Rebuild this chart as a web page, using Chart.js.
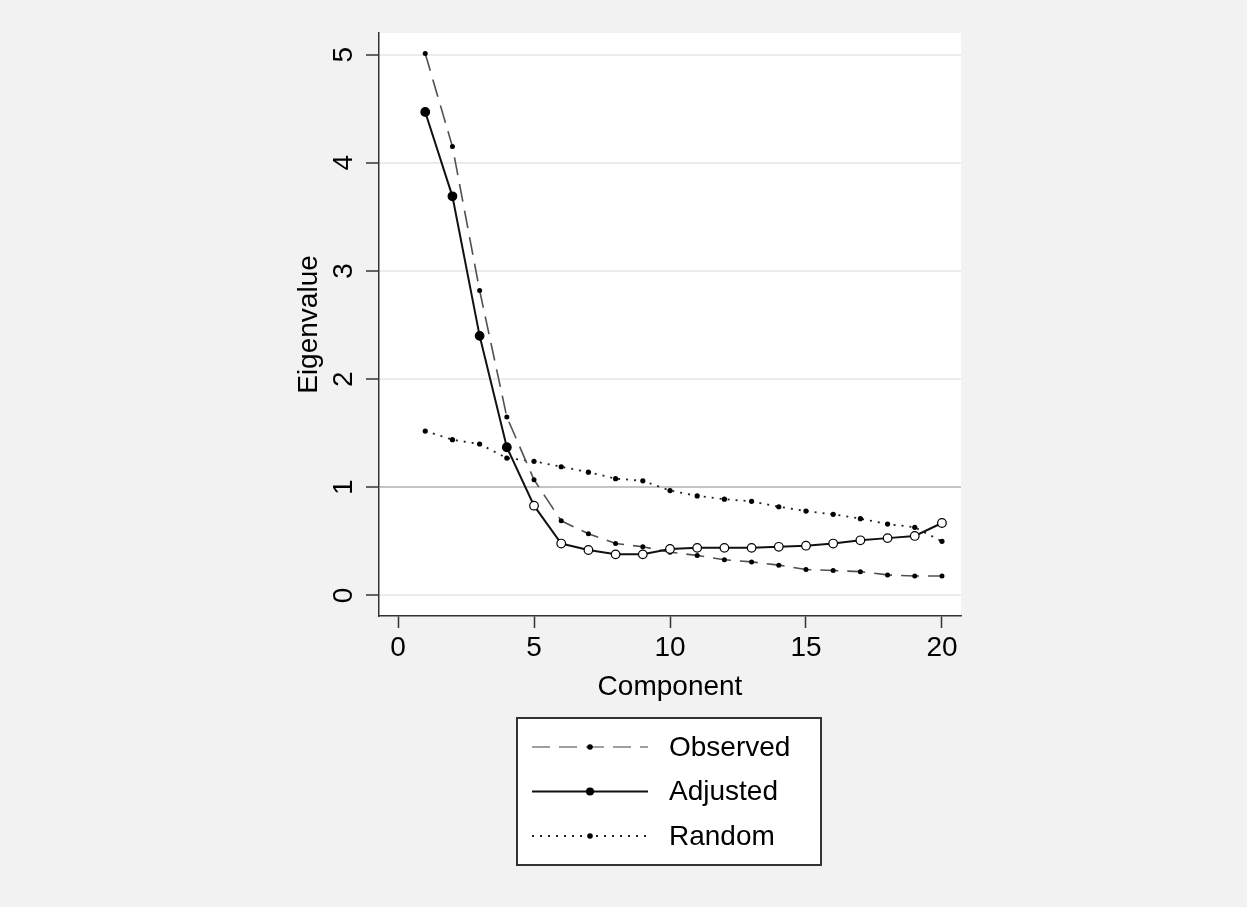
<!DOCTYPE html>
<html>
<head>
<meta charset="utf-8">
<script src="https://cdn.jsdelivr.net/npm/chart.js@4.4.1/dist/chart.umd.min.js"></script>
<style>
    html, body { margin: 0; padding: 0; background: #f2f2f2; }
    #wrap { width: 1247px; height: 907px; }
</style>
</head>
<body>
<div id="wrap"><canvas id="myChart" width="1247" height="907"></canvas></div>
<script>
// components 1..20
const components = [1, 2, 3, 4, 5, 6, 7, 8, 9, 10, 11, 12, 13, 14, 15, 16, 17, 18, 19, 20];

// eigenvalues
const observed = [5.01, 4.15, 2.82, 1.65, 1.07, 0.69, 0.57, 0.48, 0.45, 0.40,
    0.37, 0.33, 0.31, 0.28, 0.24, 0.23, 0.22, 0.19, 0.18, 0.18];
const adjusted = [4.47, 3.69, 2.40, 1.37, 0.83, 0.48, 0.42, 0.38, 0.38, 0.43,
    0.44, 0.44, 0.44, 0.45, 0.46, 0.48, 0.51, 0.53, 0.55, 0.67];
const random = [1.52, 1.44, 1.40, 1.27, 1.24, 1.19, 1.14, 1.08, 1.06, 0.97,
    0.92, 0.89, 0.87, 0.82, 0.78, 0.75, 0.71, 0.66, 0.63, 0.50];

const xTicks = [0, 5, 10, 15, 20];
const yTicks = [0, 1, 2, 3, 4, 5];

const FONT = "'Liberation Sans', Arial, Helvetica, sans-serif";

const toPoints = (vals) => vals.map((v, i) => ({ x: components[i], y: v }));

// gray page + white plot region
const backgroundPlugin = {
    id: "bg",
    beforeDraw(chart) {
        const { ctx, chartArea } = chart;
        ctx.save();
        ctx.fillStyle = "#f2f2f2";
        ctx.fillRect(0, 0, chart.width, chart.height);
        ctx.fillStyle = "#ffffff";
        ctx.fillRect(chartArea.left, chartArea.top, chartArea.right - chartArea.left, chartArea.bottom - chartArea.top);
        ctx.restore();
    },
};

// boxed legend under the plot, line sample with marker in the middle
const boxLegendPlugin = {
    id: "boxLegend",
    afterDraw(chart) {
        const ctx = chart.ctx;
        const box = { x: 517, y: 718, w: 304, h: 147 };
        ctx.save();
        ctx.fillStyle = "#ffffff";
        ctx.fillRect(box.x, box.y, box.w, box.h);
        ctx.strokeStyle = "#333333";
        ctx.lineWidth = 2;
        ctx.strokeRect(box.x, box.y, box.w, box.h);

        chart.data.datasets.forEach((ds, i) => {
            const y = 747 + i * 44.5;
            ctx.beginPath();
            ctx.setLineDash(ds.borderDash || []);
            ctx.strokeStyle = ds.legendColor || ds.borderColor;
            ctx.lineWidth = ds.borderWidth;
            ctx.moveTo(532, y);
            ctx.lineTo(648, y);
            ctx.stroke();
            ctx.setLineDash([]);
            ctx.beginPath();
            ctx.fillStyle = "#000";
            ctx.arc(590, y, ds.legendRadius, 0, Math.PI * 2);
            ctx.fill();

            ctx.fillStyle = "#000";
            ctx.font = "28px " + FONT;
            ctx.textAlign = "left";
            ctx.textBaseline = "middle";
            ctx.fillText(ds.label, 669, y + 1);
        });
        ctx.restore();
    },
};

const ctx = document.getElementById("myChart").getContext("2d");

new Chart(ctx, {
    type: "line",
    data: {
        datasets: [
            {
                label: "Observed",
                data: toPoints(observed),
                borderColor: "#505050",
                legendColor: "#808080",
                borderWidth: 1.6,
                borderDash: [18, 9],
                pointRadius: 2.5,
                pointBackgroundColor: "#000",
                pointBorderColor: "#000",
                pointBorderWidth: 0,
                legendRadius: 2.8,
                order: 2,
            },
            {
                label: "Adjusted",
                data: toPoints(adjusted),
                borderColor: "#111",
                borderWidth: 2,
                pointRadius: 4.3,
                pointBackgroundColor: (c) => (c.raw && c.raw.y > 1 ? "#000" : "#fff"),
                pointBorderColor: "#000",
                pointBorderWidth: 1.2,
                legendRadius: 4,
                order: 1,
            },
            {
                label: "Random",
                data: toPoints(random),
                borderColor: "#222",
                borderWidth: 1.8,
                borderDash: [2, 6],
                pointRadius: 2.6,
                pointBackgroundColor: "#000",
                pointBorderColor: "#000",
                pointBorderWidth: 0,
                legendRadius: 2.8,
                order: 3,
            },
        ],
    },
    options: {
        responsive: false,
        animation: false,
        clip: false,
        layout: {
            padding: { left: 290, right: 286, top: 33, bottom: 196 },
        },
        elements: {
            line: { tension: 0, fill: false },
        },
        scales: {
            x: {
                type: "linear",
                min: -0.7,
                max: 20.7,
                afterBuildTicks: (scale) => { scale.ticks = xTicks.map((v) => ({ value: v })); },
                afterFit: (scale) => { scale.height = 95; },
                grid: {
                    drawOnChartArea: false,
                    drawTicks: true,
                    tickLength: 12,
                    tickColor: "#333",
                    tickWidth: 1.5,
                },
                border: { display: true, color: "#333", width: 1.5 },
                ticks: {
                    color: "#000",
                    padding: 3,
                    maxRotation: 0,
                    autoSkip: false,
                    font: { family: FONT, size: 28 },
                },
                title: {
                    display: true,
                    text: "Component",
                    color: "#000",
                    font: { family: FONT, size: 28 },
                    padding: { top: 0, bottom: 7 },
                },
            },
            y: {
                type: "linear",
                min: -0.19,
                max: 5.2,
                afterBuildTicks: (scale) => { scale.ticks = yTicks.map((v) => ({ value: v })); },
                afterFit: (scale) => { scale.width = 89; },
                grid: {
                    color: (c) => (c.tick && c.tick.value === 1 ? "#c4c4c4" : "#ebebeb"),
                    lineWidth: 2,
                    drawTicks: true,
                    tickLength: 13,
                    tickColor: "#333",
                    tickWidth: 1.5,
                },
                border: { display: true, color: "#333", width: 1.5 },
                ticks: {
                    color: "#000",
                    padding: 14,
                    minRotation: 90,
                    maxRotation: 90,
                    crossAlign: "center",
                    autoSkip: false,
                    font: { family: FONT, size: 28 },
                },
                title: {
                    display: true,
                    text: "Eigenvalue",
                    color: "#000",
                    font: { family: FONT, size: 28 },
                    padding: { top: 2, bottom: 0 },
                },
            },
        },
        plugins: {
            legend: { display: false },
            title: { display: false },
            tooltip: { enabled: false },
        },
    },
    plugins: [backgroundPlugin, boxLegendPlugin],
});
</script>
</body>
</html>
